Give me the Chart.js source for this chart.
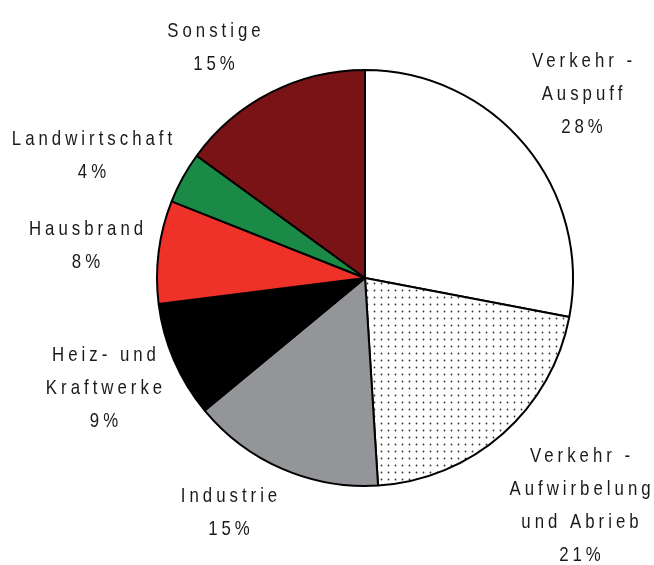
<!DOCTYPE html>
<html>
<head>
<meta charset="utf-8">
<script src="https://cdn.jsdelivr.net/npm/chart.js@4/dist/chart.umd.min.js"></script>
<style>
  html, body { margin: 0; padding: 0; background: #ffffff; }
  #wrap { width: 654px; height: 565px; position: relative; }
</style>
</head>
<body>
<div id="wrap"><canvas id="c"></canvas></div>
<script>
// ---- data ----
const categories = [
  ["Verkehr -", "Auspuff"],
  ["Verkehr -", "Aufwirbelung", "und Abrieb"],
  ["Industrie"],
  ["Heiz- und", "Kraftwerke"],
  ["Hausbrand"],
  ["Landwirtschaft"],
  ["Sonstige"]
];
const shares = [28, 21, 15, 9, 8, 4, 15];
const shareLabels = ["28%", "21%", "15%", "9%", "8%", "4%", "15%"];

// ---- styling ----
function dotPattern() {
  const p = document.createElement('canvas');
  p.width = 7; p.height = 7;
  const g = p.getContext('2d');
  g.fillStyle = '#ffffff';
  g.fillRect(0, 0, 7, 7);
  g.fillStyle = '#333333';
  g.beginPath();
  g.arc(3.5, 3.5, 0.9, 0, Math.PI * 2);
  g.fill();
  return g.createPattern(p, 'repeat');
}
const fills = ['#ffffff', dotPattern(), '#939598', '#000000', '#ee3129', '#1b8a47', '#7a1315'];

// label anchors (centre x, first line centre y) in canvas pixels – layout only
const labelAnchors = [[582, 60], [580, 455], [229, 495], [104, 354], [86, 228], [92, 138], [214, 30]];
const lineStep = 33;
const squeeze = 0.8;

const labelPlugin = {
  id: 'pieLabels',
  afterDraw(chart) {
    const ctx = chart.ctx;
    categories.forEach((lines, i) => {
      const all = lines.concat([shareLabels[i]]);
      const [x, y] = labelAnchors[i];
      all.forEach((t, k) => {
        ctx.save();
        ctx.translate(x, y + k * lineStep);
        ctx.scale(squeeze, 1);
        ctx.fillStyle = '#1a1a1a';
        ctx.font = '21px "Liberation Sans", Arial, sans-serif';
        ctx.letterSpacing = '5px';
        ctx.textAlign = 'center';
        ctx.textBaseline = 'middle';
        ctx.fillText(t, 2.5, 1);
        ctx.restore();
      });
    });
  }
};

new Chart(document.getElementById('c'), {
  type: 'pie',
  data: {
    labels: categories.map(l => l.join(' ')),
    datasets: [{
      data: shares,
      backgroundColor: fills,
      borderColor: '#000000',
      borderWidth: 2,
      borderAlign: 'center'
    }]
  },
  options: {
    responsive: true,
    maintainAspectRatio: false,
    animation: false,
    rotation: 0,
    layout: { padding: { left: 156, right: 80, top: 69, bottom: 78 } },
    plugins: { legend: { display: false }, tooltip: { enabled: false } }
  },
  plugins: [labelPlugin]
});
</script>
</body>
</html>
